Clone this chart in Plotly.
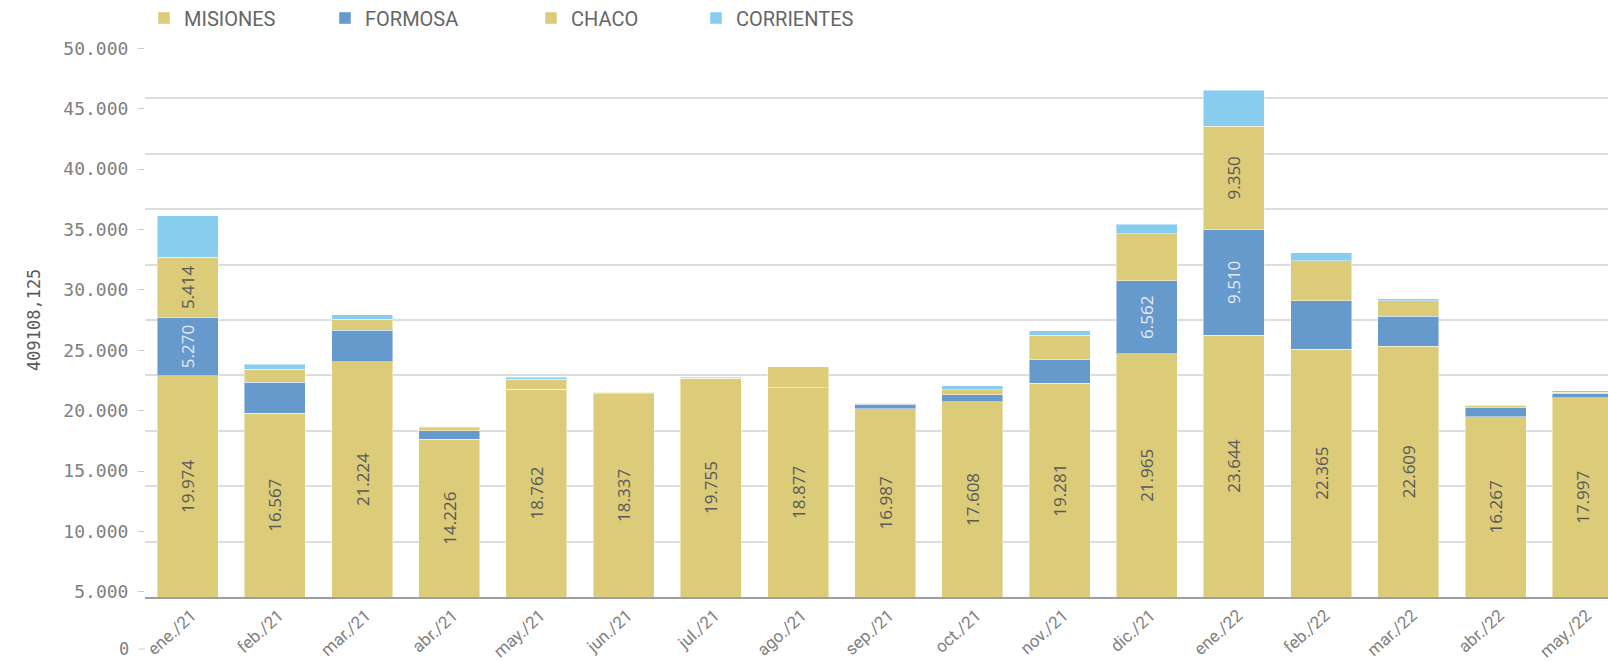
import plotly.graph_objects as go

months = ["ene./21", "feb./21", "mar./21", "abr./21", "may./21", "jun./21", "jul./21",
          "ago./21", "sep./21", "oct./21", "nov./21", "dic./21", "ene./22", "feb./22",
          "mar./22", "abr./22", "may./22"]
misiones = [19974, 16567, 21224, 14226, 18762, 18337, 19755, 18877, 16987, 17608,
            19281, 21965, 23644, 22365, 22609, 16267, 17997]
formosa = [5270, 2800, 2830, 790, 0, 0, 0, 0, 390, 660, 2120, 6562, 9510, 4370, 2750, 870, 360]
chaco = [5414, 1200, 1020, 240, 900, 130, 50, 1900, 90, 450, 2240, 4260, 9350, 3610, 1400, 150, 130]
corrientes = [3770, 450, 390, 120, 150, 30, 20, 20, 60, 330, 400, 840, 3220, 740, 180, 30, 130]

y_tick_labels = ["5.000", "10.000", "15.000", "20.000", "25.000", "30.000",
                 "35.000", "40.000", "45.000", "50.000"]
y_title = "409108,125"

YELLOW = "#dccb78"
BLUE = "#6699cc"
LIGHTBLUE = "#88cdee"


def fmt(v):
    return f"{v:,}".replace(",", ".")


def labels(vals, minv):
    return [fmt(v) if v >= minv else "" for v in vals]


series = [
    ("MISIONES", misiones, YELLOW, labels(misiones, 0), "#595959", "legend"),
    ("FORMOSA", formosa, BLUE, labels(formosa, 5000), "#e4ebf3", "legend2"),
    ("CHACO", chaco, YELLOW, labels(chaco, 5000), "#595959", "legend3"),
    ("CORRIENTES", corrientes, LIGHTBLUE, labels(corrientes, 5000), "#595959", "legend4"),
]

fig = go.Figure()
for name, vals, color, txt, tcolor, leg in series:
    fig.add_trace(go.Bar(
        x=list(range(len(months))), y=vals, name=name,
        marker=dict(color=color, line=dict(color="rgba(255,255,255,0.45)", width=1)),
        text=txt, textposition="inside", textangle=-90, insidetextanchor="middle",
        textfont=dict(family="Open Sans", size=17, color=tcolor),
        legend=leg, hoverinfo="skip",
    ))

# secondary axis carrying the tick labels
fig.add_trace(go.Scatter(x=[0], y=[0], yaxis="y2", mode="markers",
                         marker=dict(opacity=0), showlegend=False, hoverinfo="skip"))

W, H = 1608, 661
L, R, T, B = 145, 0, 43, 64
pw, ph = W - L - R, H - T - B

legend_font = dict(family="Roboto", size=20, color="#666666")
leg_common = dict(orientation="h", yref="container", yanchor="middle", y=1 - 18 / H,
                  xref="container", xanchor="left",
                  font=legend_font, bgcolor="rgba(0,0,0,0)", itemwidth=30)

fig.update_layout(
    width=W, height=H,
    margin=dict(l=L, r=R, t=T, b=B, autoexpand=False),
    plot_bgcolor="white", paper_bgcolor="white",
    barmode="stack", bargap=0.30,
    legend=dict(x=(158 - 14) / W, **leg_common),
    legend2=dict(x=(339 - 14) / W, **leg_common),
    legend3=dict(x=(545 - 14) / W, **leg_common),
    legend4=dict(x=(710 - 14) / W, **leg_common),
    xaxis=dict(
        range=[-0.49, 16.29], tickmode="array", tickvals=list(range(len(months))),
        ticktext=months, tickangle=-42, showgrid=False, zeroline=False, automargin=False,
        showline=True, linecolor="#9e9e9e", linewidth=2, layer="below traces",
        tickfont=dict(family="Roboto", size=17, color="#808080"), ticks="",
        ticklabelshift=4,
    ),
    yaxis=dict(
        range=[0, 50000], dtick=5000, showticklabels=False, showgrid=True, automargin=False,
        gridcolor="#dddddd", gridwidth=2, zeroline=False, ticks="",
    ),
    yaxis2=dict(
        overlaying="y", side="left", range=[-0.083, 9.089], automargin=False,
        tickmode="array", tickvals=list(range(len(y_tick_labels))), ticktext=y_tick_labels,
        showgrid=False, zeroline=False, ticks="outside", ticklen=6, tickcolor="#cccccc",
        ticklabelstandoff=6,
        tickfont=dict(family="DejaVu Sans Mono", size=18, color="#808080"),
    ),
    showlegend=True,
)

# "0" label below the plot area and its tick
y0p = -(649 - (H - B)) / ph
fig.add_annotation(xref="paper", yref="paper", x=(131 - L) / pw, y=y0p, text="0",
                   showarrow=False, xanchor="right", yanchor="middle",
                   font=dict(family="DejaVu Sans Mono", size=17, color="#808080"))
fig.add_shape(type="line", xref="paper", yref="paper", x0=(139 - L) / pw, x1=0,
              y0=y0p, y1=y0p, line=dict(color="#cccccc", width=1))

# y axis title
fig.add_annotation(xref="paper", yref="paper", x=(34 - L) / pw, y=(H - B - 320) / ph,
                   text=y_title, showarrow=False, textangle=-90,
                   xanchor="center", yanchor="middle",
                   font=dict(family="DejaVu Sans Mono", size=17, color="#595959"))

fig.write_html("out.html", config={"displayModeBar": False},
               post_script="document.body.style.margin='0';document.body.style.overflow='hidden';")
